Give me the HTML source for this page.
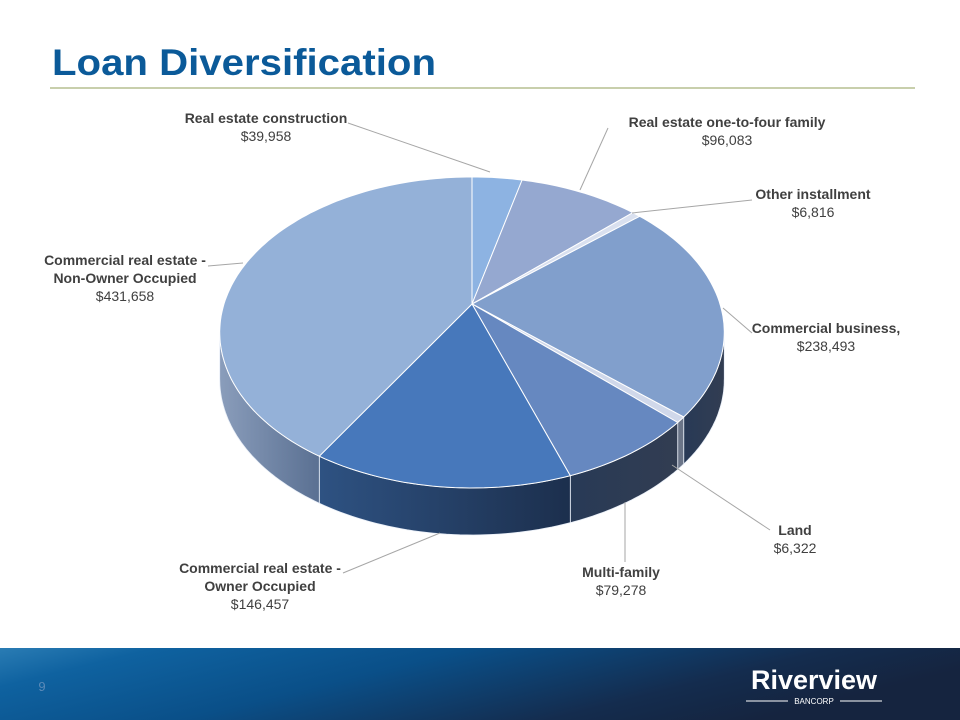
<!DOCTYPE html>
<html><head><meta charset="utf-8"><style>
html,body{margin:0;padding:0;width:960px;height:720px;overflow:hidden;background:#fff;font-family:"Liberation Sans",sans-serif}
</style></head><body>
<svg width="960" height="720" viewBox="0 0 960 720">
<defs>
<linearGradient id="foot" x1="0" y1="0" x2="1" y2="0.3">
<stop offset="0" stop-color="#2a7cb4"/><stop offset="0.15" stop-color="#0f62a0"/><stop offset="0.45" stop-color="#0a4f88"/><stop offset="0.8" stop-color="#142c4e"/><stop offset="1" stop-color="#15243f"/></linearGradient>
<linearGradient id="sideL" x1="0" y1="0" x2="1" y2="0"><stop offset="0" stop-color="#8a9dbb"/><stop offset="1" stop-color="#5a7092"/></linearGradient>
<linearGradient id="sideM" x1="0" y1="0" x2="1" y2="0"><stop offset="0" stop-color="#2e5282"/><stop offset="1" stop-color="#1c2f4d"/></linearGradient>
<linearGradient id="sideR" x1="0" y1="0" x2="1" y2="0"><stop offset="0" stop-color="#283a56"/><stop offset="1" stop-color="#323d52"/></linearGradient>
</defs>
<text x="52" y="75" font-size="37" font-weight="bold" fill="#0b5a99" textLength="384" lengthAdjust="spacingAndGlyphs">Loan Diversification</text>
<line x1="50" y1="88" x2="915" y2="88" stroke="#a7b27a" stroke-width="1.2"/>
<g id="pie"></g>
<g id="labels" font-size="14" fill="#404040" text-anchor="middle"></g>
<rect x="0" y="648" width="960" height="72" fill="url(#foot)"/>
<text x="42" y="691" font-size="13" fill="#5b8ab8" text-anchor="middle">9</text>
<g>
<text x="814" y="689" font-size="27" font-weight="bold" fill="#fff" text-anchor="middle" font-family="Liberation Sans Narrow, Liberation Sans, sans-serif">Riverview</text>
<text x="814" y="704" font-size="8" fill="#fff" text-anchor="middle">BANCORP</text>
<line x1="746" y1="701" x2="788" y2="701" stroke="#fff" stroke-width="1"/>
<line x1="840" y1="701" x2="882" y2="701" stroke="#fff" stroke-width="1"/>
</g>
</svg>
<script>
const categories=["Real estate construction","Real estate one-to-four family","Other installment","Commercial business,","Land","Multi-family","Commercial real estate - Owner Occupied","Commercial real estate - Non-Owner Occupied"];
const values=[39958,96083,6816,238493,6322,79278,146457,431658];
const valueLabels=["$39,958","$96,083","$6,816","$238,493","$6,322","$79,278","$146,457","$431,658"];
const NS="http://www.w3.org/2000/svg";
const topColors=["#8db3e2","#95a8d0","#d9e0ef","#819fcc","#d0d8ea","#6688c0","#4778bb","#94b1d8"];
const sideFills=["url(#sideR)","url(#sideR)","#9aa6bb","url(#sideR)","#6b7588","url(#sideR)","url(#sideM)","url(#sideL)"];
const ax=472,ay=304,W=248,H=150.3,P=0.183,depth=47;
function pt(a,dy){const z=Math.cos(a),s=1/(1+P*z);return [ax+W*Math.sin(a)*s,ay-H*z*s+(dy||0)];}
const total=values.reduce((s,v)=>s+v,0);
const pie=document.getElementById('pie');
let acc=0;const angs=[];
values.forEach(v=>{const a0=acc/total*2*Math.PI;acc+=v;angs.push([a0,acc/total*2*Math.PI]);});
const visA=1.75,visB=2*Math.PI-1.75;
angs.forEach(([a0,a1],i)=>{
 const s=Math.max(a0,visA),e=Math.min(a1,visB);
 if(e<=s)return;
 let d="";const n=40;
 for(let k=0;k<=n;k++){const p=pt(s+(e-s)*k/n);d+=(k?"L":"M")+p[0].toFixed(1)+","+p[1].toFixed(1);}
 for(let k=n;k>=0;k--){const p=pt(s+(e-s)*k/n,depth);d+="L"+p[0].toFixed(1)+","+p[1].toFixed(1);}
 const el=document.createElementNS(NS,'path');
 el.setAttribute('d',d+"Z");el.setAttribute('fill',sideFills[i]);el.setAttribute('stroke','#e8eef7');el.setAttribute('stroke-width','0.8');
 
 
 pie.appendChild(el);
});
angs.forEach(([a0,a1],i)=>{
 let d="M"+ax+","+ay;const n=Math.max(4,Math.ceil((a1-a0)*40));
 for(let k=0;k<=n;k++){const p=pt(a0+(a1-a0)*k/n);d+="L"+p[0].toFixed(1)+","+p[1].toFixed(1);}
 const el=document.createElementNS(NS,'path');
 el.setAttribute('d',d+"Z");el.setAttribute('fill',topColors[i]);el.setAttribute('stroke','#fff');el.setAttribute('stroke-width','1');
 
 
 pie.appendChild(el);
});
const lab=document.getElementById('labels');
const L=[
 {x:266,y:123,lines:["Real estate construction"],lead:[[348,123],[490,172]]},
 {x:727,y:127,lines:["Real estate one-to-four family"],lead:[[608,128],[580,190]]},
 {x:813,y:199,lines:["Other installment"],lead:[[752,200],[632,213]]},
 {x:826,y:333,lines:["Commercial business,"],lead:[[752,333],[723,308]]},
 {x:795,y:535,lines:["Land"],lead:[[770,530],[672,465]]},
 {x:621,y:577,lines:["Multi-family"],lead:[[625,562],[625,502]]},
 {x:260,y:573,lines:["Commercial real estate -","Owner Occupied"],lead:[[343,573],[440,533]]},
 {x:125,y:265,lines:["Commercial real estate -","Non-Owner Occupied"],lead:[[208,266],[243,263]]}
];
L.forEach((l,i)=>{
 const ln=document.createElementNS(NS,'polyline');
 ln.setAttribute('points',l.lead.map(p=>p.join(',')).join(' '));
 ln.setAttribute('fill','none');ln.setAttribute('stroke','#a6a6a6');ln.setAttribute('stroke-width','1');
 
 
 lab.appendChild(ln);
 l.lines.concat([valueLabels[i]]).forEach((t,k)=>{
  const tx=document.createElementNS(NS,'text');
  tx.setAttribute('x',l.x);tx.setAttribute('y',l.y+k*18);
  if(k<l.lines.length)tx.setAttribute('font-weight','bold');
  tx.textContent=t;
  
  
  lab.appendChild(tx);
 });
});
</script>
</body></html>
